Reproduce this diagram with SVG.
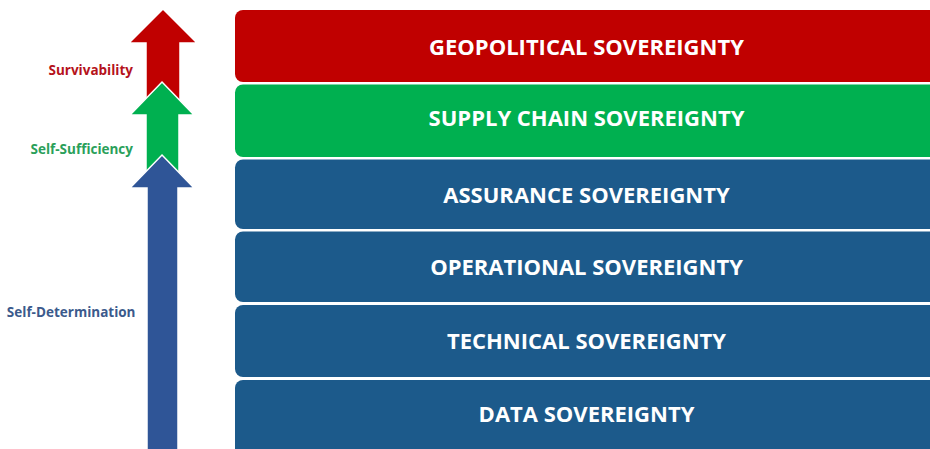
<svg xmlns="http://www.w3.org/2000/svg" width="930" height="449" viewBox="0 0 930 449">
  <style>
    .layer { stroke: none; }
    .red { fill: #C00000; }
    .green { fill: #00B050; }
    .blue { fill: #1C5A8B; }
    .layer-text { font-family: "Open Sans", "Liberation Sans", sans-serif; font-weight: 700; font-size: 22px; fill: #FFFFFF; text-anchor: middle; }
    .level { font-family: "Open Sans", "Liberation Sans", sans-serif; font-weight: 700; font-size: 13.5px; text-anchor: end; }
    .arrow { stroke: #FFFFFF; stroke-width: 1.5; stroke-linejoin: miter; }
  </style>
  <rect width="930" height="449" fill="#FFFFFF"/>

  <!-- rising arrows with their level labels -->
  <g id="connectors">
    <g id="arrow-survivability">
      <path class="arrow" fill="#C00000" d="M163 9 L197 43 L180 43 L180 100 L146 100 L146 43 L129 43 Z"/>
    </g>
    <g id="arrow-self-sufficiency">
      <path class="arrow" fill="#00B050" d="M162 82 L194 115 L179 115 L179 180 L146 180 L146 115 L130 115 Z"/>
    </g>
    <g id="arrow-self-determination">
      <path class="arrow" fill="#2F5597" d="M162 155 L194 188 L178 188 L178 452 L147 452 L147 188 L130 188 Z"/>
    </g>
  </g>

  <g id="label-survivability">
    <text class="level" x="133" y="74.5" fill="#B5121B">Survivability</text>
  </g>
  <g id="label-self-sufficiency">
    <text class="level" x="133" y="153.5" fill="#2AA05A">Self-Sufficiency</text>
  </g>
  <g id="label-self-determination">
    <text class="level" x="135.5" y="317" fill="#3B5A8C">Self-Determination</text>
  </g>

  <!-- stacked sovereignty layers -->
  <g id="geopolitical">
    <rect class="layer red" x="235" y="10" width="710" height="72" rx="8"/>
    <text class="layer-text" x="586.5" y="55">GEOPOLITICAL SOVEREIGNTY</text>
  </g>
  <g id="supply-chain">
    <rect class="layer green" x="235" y="84.5" width="710" height="72.5" rx="8"/>
    <text class="layer-text" x="586.5" y="126">SUPPLY CHAIN SOVEREIGNTY</text>
  </g>
  <g id="assurance">
    <rect class="layer blue" x="235" y="159.5" width="710" height="69.5" rx="8"/>
    <text class="layer-text" x="586.5" y="202.5">ASSURANCE SOVEREIGNTY</text>
  </g>
  <g id="operational">
    <rect class="layer blue" x="235" y="231.5" width="710" height="70.5" rx="8"/>
    <text class="layer-text" x="586.5" y="275">OPERATIONAL SOVEREIGNTY</text>
  </g>
  <g id="technical">
    <rect class="layer blue" x="235" y="305" width="710" height="72" rx="8"/>
    <text class="layer-text" x="586.5" y="349">TECHNICAL SOVEREIGNTY</text>
  </g>
  <g id="data">
    <rect class="layer blue" x="235" y="380" width="710" height="80" rx="8"/>
    <text class="layer-text" x="586.5" y="422">DATA SOVEREIGNTY</text>
  </g>
</svg>
